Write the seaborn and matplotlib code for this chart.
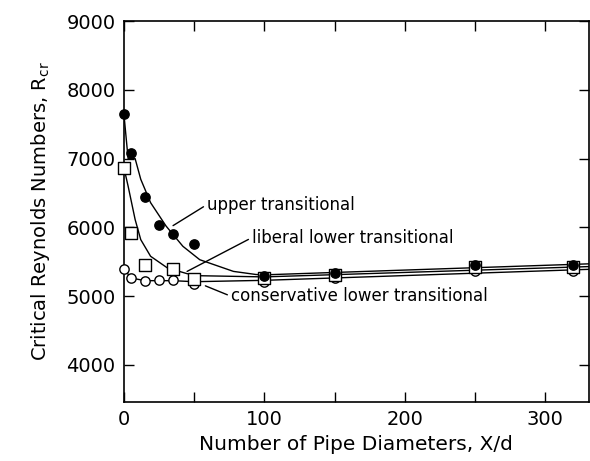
import matplotlib
matplotlib.use("Agg")
import matplotlib.pyplot as plt
import seaborn as sns

# measured points
x_upper = [0, 5, 15, 25, 35, 50, 100, 150, 250, 320]
r_upper = [7650, 7080, 6440, 6030, 5900, 5760, 5300, 5340, 5450, 5460]

x_liberal = [0, 5, 15, 35, 50, 100, 150, 250, 320]
r_liberal = [6870, 5920, 5450, 5400, 5250, 5270, 5310, 5420, 5430]

x_cons = [0, 5, 15, 25, 35, 50, 100, 150, 250, 320]
r_cons = [5400, 5265, 5215, 5230, 5230, 5180, 5200, 5260, 5360, 5370]

# hand drawn curves
cu_x = [0, 3, 8, 12, 19, 30, 42, 54, 78, 94, 100, 331]
cu_y = [7650, 7000, 7000, 6700, 6360, 6020, 5725, 5530, 5360, 5315, 5310, 5470]
cl_x = [0, 3, 8, 12, 19, 31, 45, 54, 100, 331]
cl_y = [6870, 6600, 6114, 5822, 5580, 5410, 5327, 5297, 5280, 5430]
cc_x = [0, 5, 15, 25, 35, 50, 100, 331]
cc_y = [5400, 5265, 5225, 5225, 5225, 5210, 5230, 5390]

x_ticks = [0, 50, 100, 150, 200, 250, 300]
x_labels = ["0", "", "100", "", "200", "", "300"]
y_ticks = [4000, 5000, 6000, 7000, 8000, 9000]

sns.set_style("ticks")
plt.rcParams['font.family'] = ['DejaVu Sans']
for k in ['text.color', 'axes.labelcolor', 'xtick.color', 'ytick.color', 'axes.edgecolor']:
    plt.rcParams[k] = 'black'

fig = plt.figure(figsize=(5.9, 4.61), dpi=100)
ax = fig.add_axes([0.21, 0.128, 0.788, 0.826])

for cx, cy in [(cu_x, cu_y), (cl_x, cl_y), (cc_x, cc_y)]:
    sns.lineplot(x=cx, y=cy, sort=False, color="black", lw=1, ax=ax)

sns.scatterplot(x=x_cons, y=r_cons, marker="o", s=45, color="white",
                edgecolor="black", linewidth=1, zorder=3, clip_on=False, ax=ax)
sns.scatterplot(x=x_liberal, y=r_liberal, marker="s", s=75, color="white",
                edgecolor="black", linewidth=1, zorder=4, clip_on=False, ax=ax)
sns.scatterplot(x=x_upper, y=r_upper, marker="o", s=45, color="black",
                edgecolor="black", linewidth=1, zorder=5, clip_on=False, ax=ax)

lead = dict(arrowstyle="-", color="black", lw=1, shrinkA=0, shrinkB=0,
            relpos=(0, 0.5))
ax.annotate("upper transitional", xy=(35, 6026), xytext=(59, 6330),
            fontsize=12, ha="left", va="center", arrowprops=lead)
ax.annotate("liberal lower transitional", xy=(45, 5360), xytext=(91, 5850),
            fontsize=12, ha="left", va="center", arrowprops=lead)
ax.annotate("conservative lower transitional", xy=(58, 5150), xytext=(76, 5000),
            fontsize=12, ha="left", va="center", arrowprops=lead)

ax.set_xlim(0, 331)
ax.set_ylim(3460, 9000)
ax.set_xticks(x_ticks)
ax.set_xticklabels(x_labels)
ax.set_yticks(y_ticks)
ax.tick_params(direction="in", length=7, width=1, labelsize=14,
               top=True, right=True, pad=6)
for s in ax.spines.values():
    s.set_linewidth(1.2)

ax.set_xlabel("Number of Pipe Diameters, X/d", fontsize=14.5, labelpad=4)
ax.set_ylabel(r"Critical Reynolds Numbers, R$_{\rm cr}$", fontsize=14, labelpad=10)

fig.savefig("out.png", dpi=100)
